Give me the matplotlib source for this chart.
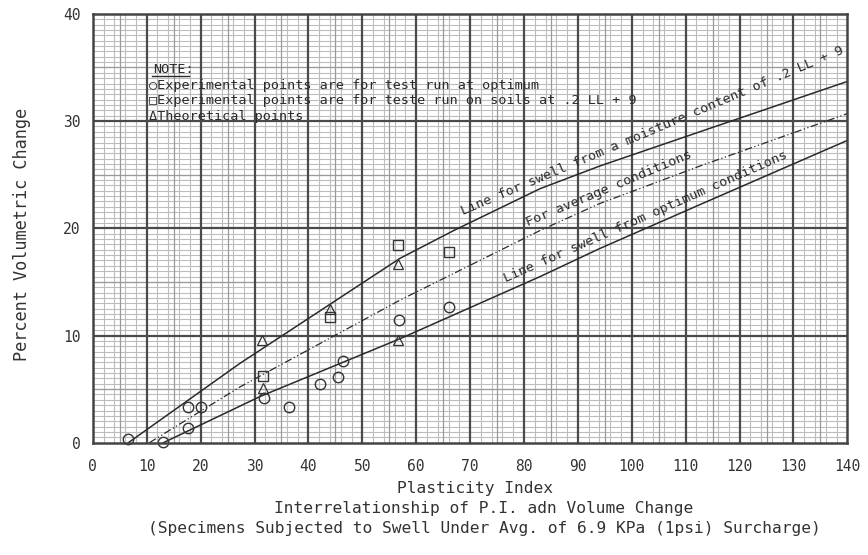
import matplotlib
matplotlib.use('Agg')
import matplotlib.pyplot as plt
from matplotlib.ticker import MultipleLocator

# experimental points at optimum (circles)
opt_pi = [6.6, 13.1, 17.7, 20.0, 17.7, 31.8, 36.4, 42.2, 45.4, 46.5, 56.8, 66.1]
opt_vc = [0.3, 0.1, 3.3, 3.3, 1.4, 4.2, 3.3, 5.5, 6.1, 7.6, 11.4, 12.7]

# experimental points at .2 LL + 9 (squares)
ll_pi = [31.5, 44.1, 56.7, 66.1]
ll_vc = [6.2, 11.7, 18.4, 17.8]

# theoretical points (triangles)
th_pi = [31.6, 31.4, 44.0, 56.7, 56.7]
th_vc = [5.1, 9.6, 12.5, 16.7, 9.6]

# curves
moist_pi = [6.6, 27.3, 57, 67, 83, 94, 112.6, 140]
moist_vc = [0.0, 7.4, 17.2, 19.8, 23.7, 25.8, 29.0, 33.7]

avg_pi = [10.5, 27.3, 57, 83, 94, 112.6, 140]
avg_vc = [0.0, 5.2, 13.3, 19.8, 22.3, 25.8, 30.7]

optc_pi = [13.1, 31, 57, 83, 94, 112.6, 140]
optc_vc = [0.0, 4.3, 9.7, 15.5, 18.1, 22.2, 28.2]

mono = 'DejaVu Sans Mono'
ink = '#2a2a2a'

fig = plt.figure(figsize=(8.68, 5.55), dpi=100)
ax = fig.add_axes([92.8 / 868, 112.3 / 555, 754.6 / 868, 428.8 / 555])

ax.set_xlim(0, 140)
ax.set_ylim(0, 40)
ax.xaxis.set_major_locator(MultipleLocator(10))
ax.yaxis.set_major_locator(MultipleLocator(10))
ax.xaxis.set_minor_locator(MultipleLocator(2))
ax.yaxis.set_minor_locator(MultipleLocator(0.5))
ax.grid(which='minor', color='#bdbdbd', linewidth=0.8)

# graph paper: medium lines at 5, heavy lines at 10
for v in range(5, 140, 10):
    ax.axvline(v, color='#9a9a9a', linewidth=0.9, zorder=0.6)
for v in range(5, 40, 10):
    ax.axhline(v, color='#9a9a9a', linewidth=0.9, zorder=0.6)
for v in range(10, 140, 10):
    ax.axvline(v, color='#4a4a4a', linewidth=1.6, zorder=0.7)
for v in range(10, 40, 10):
    ax.axhline(v, color='#4a4a4a', linewidth=1.6, zorder=0.7)
ax.set_axisbelow(True)

for s in ax.spines.values():
    s.set_color('#444444')
    s.set_linewidth(1.8)

ax.tick_params(which='both', length=0, labelcolor='#333333')
ax.tick_params(axis='x', pad=12)
ax.tick_params(axis='y', pad=9)
for lab in ax.get_xticklabels() + ax.get_yticklabels():
    lab.set_fontfamily(mono)
    lab.set_fontsize(10.5)

# curves
ax.plot(moist_pi, moist_vc, color=ink, linewidth=1.1)
ax.plot(avg_pi, avg_vc, color=ink, linewidth=0.9, linestyle=(0, (6, 2, 1, 2, 1, 2)))
ax.plot(optc_pi, optc_vc, color=ink, linewidth=1.1)

# points
ax.plot(opt_pi, opt_vc, 'o', markersize=7.5, markerfacecolor='none',
        markeredgecolor='#333333', markeredgewidth=1.0, clip_on=False)
ax.plot(ll_pi, ll_vc, 's', markersize=6.5, markerfacecolor='none',
        markeredgecolor='#333333', markeredgewidth=1.0)
ax.plot(th_pi, th_vc, '^', markersize=6.5, markerfacecolor='none',
        markeredgecolor='#333333', markeredgewidth=0.9)

# line labels
fs = 9.7
ax.text(68.7, 21.2, 'Line for swell from a moisture content of .2 LL + 9',
        family=mono, fontsize=fs, color=ink, rotation=23,
        rotation_mode='anchor', ha='left', va='baseline')
ax.text(80.8, 20.15, 'For average conditions',
        family=mono, fontsize=fs, color=ink, rotation=22.7,
        rotation_mode='anchor', ha='left', va='baseline')
ax.text(76.7, 15.0, 'Line for swell from optimum conditions',
        family=mono, fontsize=fs, color=ink, rotation=23.8,
        rotation_mode='anchor', ha='left', va='baseline')

# note block
note_fam = [mono, 'DejaVu Sans']
ax.text(11.2, 34.5, 'NOTE:', family=note_fam, fontsize=fs, color=ink)
ax.plot([11.0, 17.8], [34.25, 34.25], color=ink, linewidth=1.0)
ax.text(10.4, 33.0, '○Experimental points are for test run at optimum',
        family=note_fam, fontsize=fs, color=ink)
ax.text(10.4, 31.6, '□Experimental points are for teste run on soils at .2 LL + 9',
        family=note_fam, fontsize=fs, color=ink)
ax.text(10.4, 30.1, 'ΔTheoretical points',
        family=note_fam, fontsize=fs, color=ink)

# axis titles
fig.text(22 / 868, 1 - 234 / 555, 'Percent Volumetric Change', family=mono,
         fontsize=12.2, color='#333333', rotation=90, ha='center', va='center')
fig.text(475 / 868, 1 - 489 / 555, 'Plasticity Index', family=mono,
         fontsize=11.7, color='#333333', ha='center', va='center')
fig.text(484 / 868, 1 - 509 / 555, 'Interrelationship of P.I. adn Volume Change',
         family=mono, fontsize=11.7, color='#333333', ha='center', va='center')
fig.text(484 / 868, 1 - 529 / 555,
         '(Specimens Subjected to Swell Under Avg. of 6.9 KPa (1psi) Surcharge)',
         family=mono, fontsize=11.7, color='#333333', ha='center', va='center')

fig.savefig('out.png', dpi=100, facecolor='white')
